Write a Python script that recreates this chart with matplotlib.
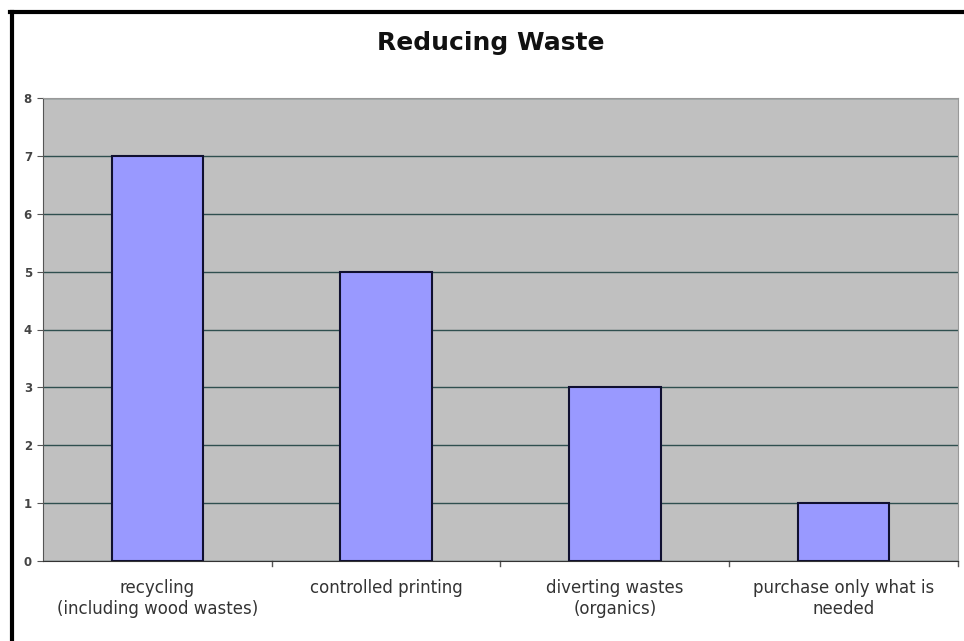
import matplotlib.pyplot as plt
from matplotlib.lines import Line2D

categorias = ["recycling\n(including wood wastes)", "controlled printing",
              "diverting wastes\n(organics)", "purchase only what is\nneeded"]
valores = [7, 5, 3, 1]
titulo = "Reducing Waste"

fig = plt.figure(figsize=(9.64, 6.41), dpi=100)
ax = fig.add_axes([43 / 964, 80 / 641, 915 / 964, 463 / 641])

ax.set_facecolor("#c0c0c0")
ax.bar(range(len(valores)), valores, width=0.4, color="#9999ff",
       edgecolor="#101030", linewidth=1.5, zorder=3)

ax.set_xlim(-0.5, len(valores) - 0.5)
ax.set_ylim(0, 8)
ax.set_yticks(range(0, 9))
ax.yaxis.grid(True, color="#2f4f4f", linewidth=1, zorder=1)
ax.set_axisbelow(True)

# etiquetas de categoria centradas, ticks en los limites
ax.set_xticks(range(len(valores)))
ax.set_xticklabels(categorias, fontsize=12, color="#333333")
ax.tick_params(axis="x", length=0, pad=13)
for b in [0.5, 1.5, 2.5, 3.5]:
    ax.plot([b, b], [0, -0.08], color="#555555", lw=1, clip_on=False)
ax.tick_params(axis="y", length=4, labelsize=8.5, color="#555555", pad=4)
for t in ax.get_yticklabels():
    t.set_fontweight("bold")
    t.set_color("#444444")

for lado in ["top", "right"]:
    ax.spines[lado].set_color("#999999")
ax.spines["left"].set_color("#555555")
ax.spines["bottom"].set_color("#333333")

fig.text(491 / 964, 1 - 43 / 641, titulo, fontsize=18, fontweight="bold",
         ha="center", va="center", color="#111111")

# marco negro
fig.add_artist(Line2D([10 / 964, 1], [1 - 12 / 641, 1 - 12 / 641],
                      color="black", lw=3, transform=fig.transFigure))
fig.add_artist(Line2D([11.5 / 964, 11.5 / 964], [0, 1 - 12 / 641],
                      color="black", lw=3, transform=fig.transFigure))

fig.savefig("out.png", dpi=100)
